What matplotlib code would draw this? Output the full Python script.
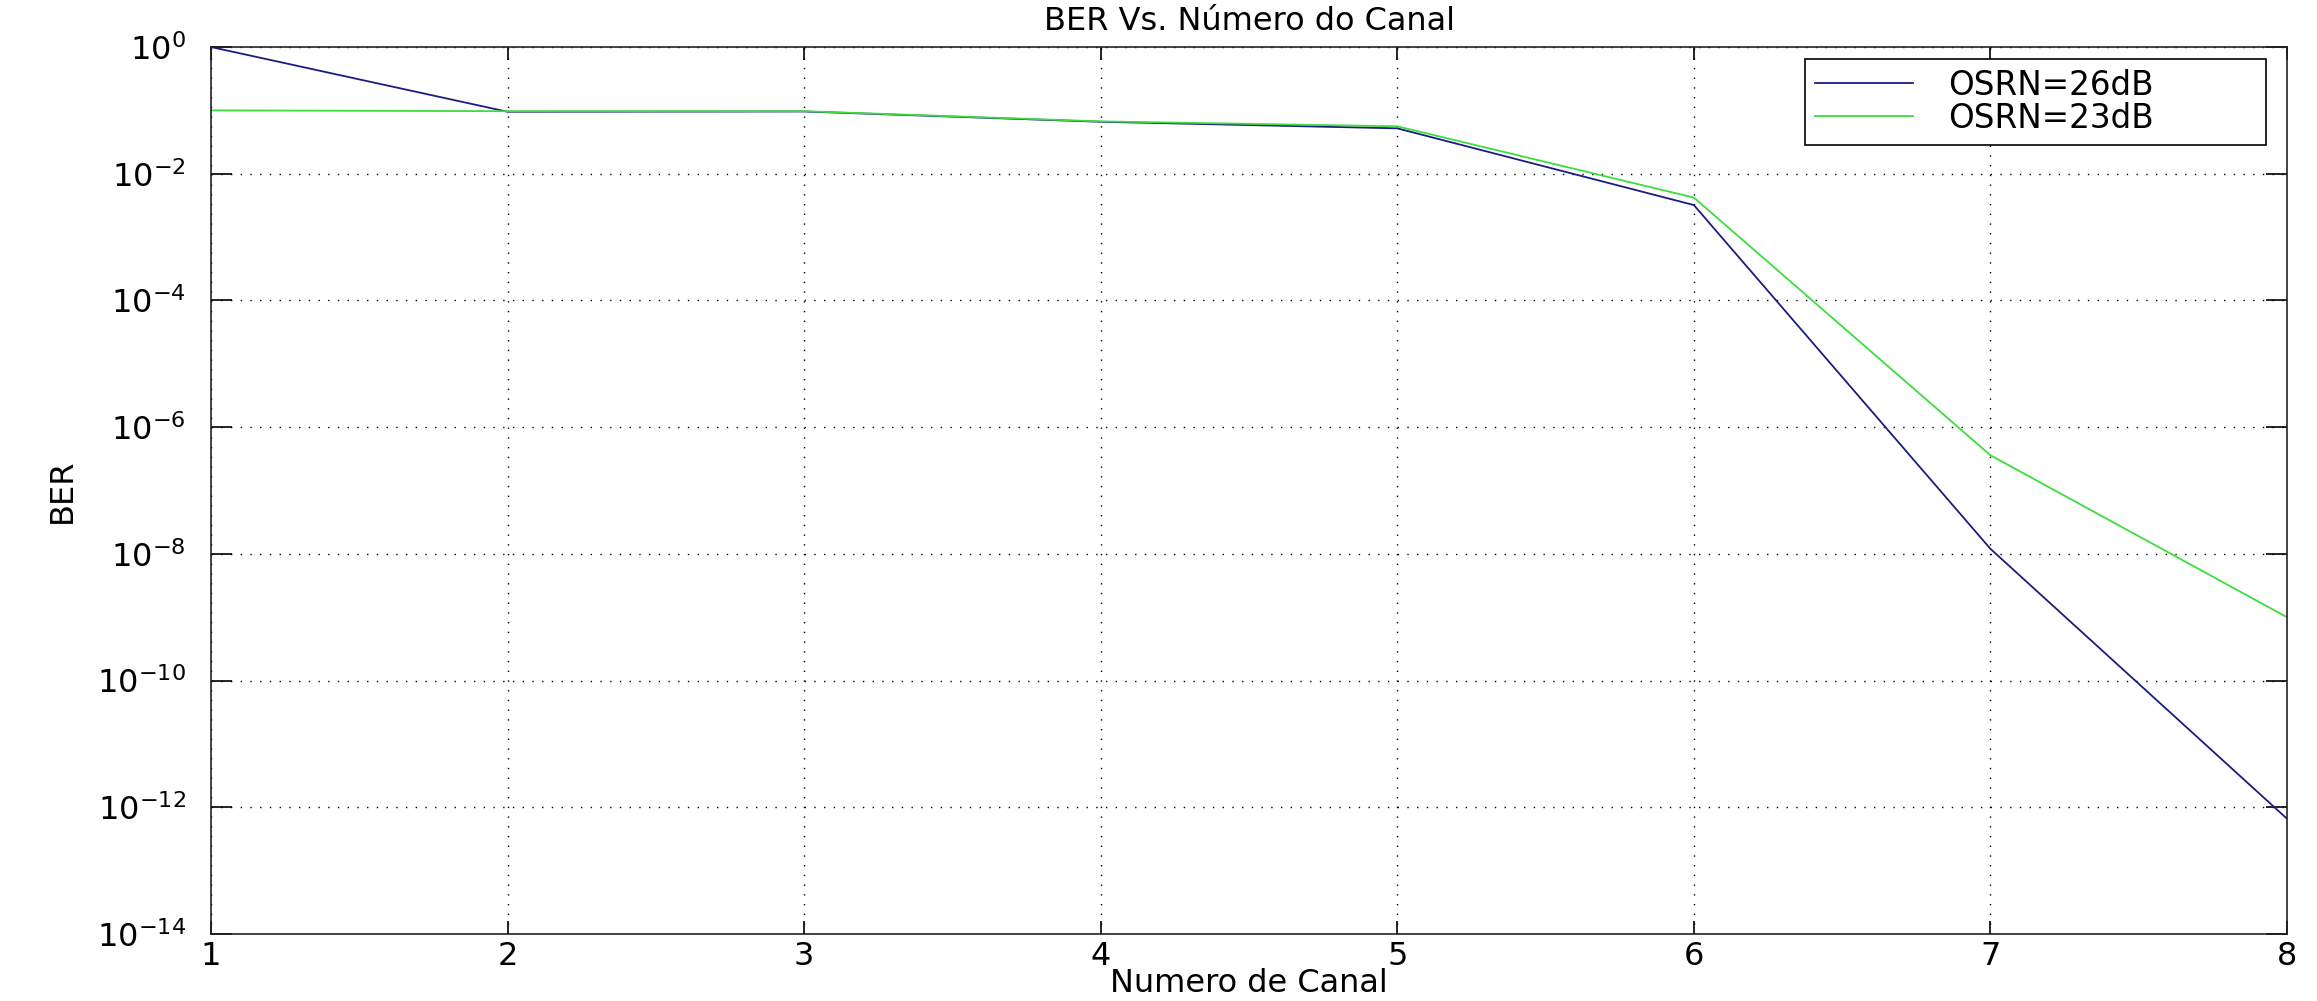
import matplotlib
matplotlib.use("Agg")
import matplotlib.pyplot as plt
from matplotlib.ticker import NullLocator, FixedLocator

# Data
canal = [1, 2, 3, 4, 5, 6, 7, 8]
ber_26dB = [1.0, 0.095, 0.096, 0.066, 0.052, 3.2e-3, 1.2e-8, 6.6e-13]
ber_23dB = [0.10, 0.097, 0.097, 0.067, 0.056, 4.2e-3, 3.6e-7, 1.0e-9]
labels = ["OSRN=26dB", "OSRN=23dB"]
y_ticks = [1e-14, 1e-12, 1e-10, 1e-8, 1e-6, 1e-4, 1e-2, 1e0]

plt.rcParams['font.family'] = ['DejaVu Sans']
plt.rcParams['mathtext.fontset'] = 'dejavusans'

W, H = 2317, 1001
dpi = 100
fig = plt.figure(figsize=(W / dpi, H / dpi), dpi=dpi)
fig.patch.set_facecolor('white')

left, right, top, bottom = 211, 2287, 47, 934
aw, ah = right - left, bottom - top
ax = fig.add_axes([left / W, 1 - bottom / H, aw / W, ah / H])

ax.plot(canal, ber_26dB, color='#1c1c80', lw=1.3, label=labels[0])
ax.plot(canal, ber_23dB, color='#3ddd3d', lw=1.3, label=labels[1])

ax.set_yscale('log')
ax.set_xlim(1, 8)
ax.set_ylim(1e-14, 1)
ax.yaxis.set_major_locator(FixedLocator(y_ticks))
ax.yaxis.set_minor_locator(NullLocator())
ax.set_xticks(canal)

ax.grid(True, which='major', color='black', linestyle=(0, (1, 6)), lw=1.0)

ax.tick_params(axis='both', which='major', direction='in', top=True, right=True,
               color='black', width=1.2, labelsize=23)
ax.tick_params(axis='x', length=9.5, pad=5)
ax.tick_params(axis='y', length=15, pad=18)
for s in ax.spines.values():
    s.set_linewidth(1.2)
    s.set_color('#222222')

ax.set_title("BER Vs. Número do Canal", fontsize=23, pad=12)
ax.set_xlabel("Numero de Canal", fontsize=23, labelpad=-3)
ax.set_ylabel("BER", fontsize=23, labelpad=14)

# legend box in axes coordinates
bx0 = (1805 - left) / aw
bx1 = (2266 - left) / aw
by1 = (bottom - 59) / ah
by0 = (bottom - 127) / ah
leg = ax.legend(loc='upper left', bbox_to_anchor=(bx0, by0, bx1 - bx0, by1 - by0),
                mode='expand', borderaxespad=0, fontsize=23.5, frameon=True,
                fancybox=False, framealpha=1, edgecolor='black',
                handlelength=3.0, handletextpad=1.1, labelspacing=0.0,
                borderpad=0.3)
leg.get_frame().set_linewidth(1.2)

fig.savefig("out.png", dpi=dpi, facecolor='white')
